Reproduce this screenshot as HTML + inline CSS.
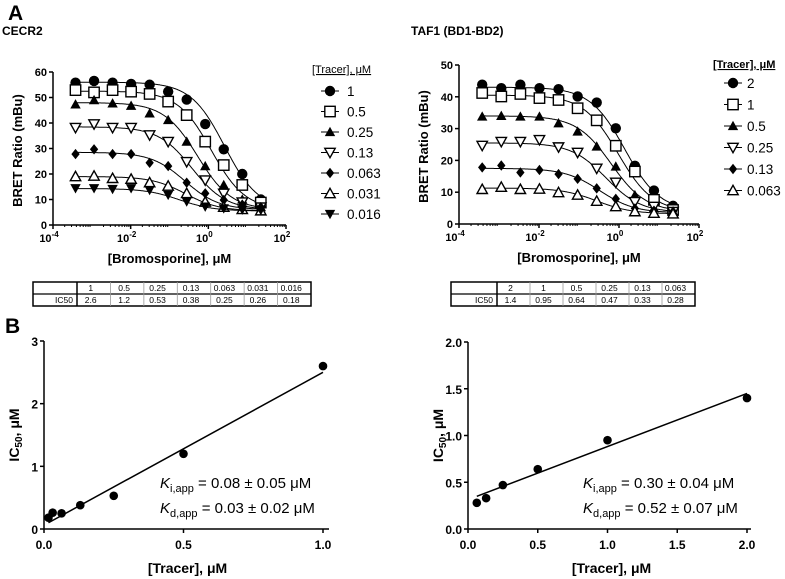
<!DOCTYPE html>
<html><head><meta charset="utf-8"><style>
body{margin:0;background:#fff}
svg{display:block;font-family:"Liberation Sans",Arial,sans-serif}
.tk{font-size:11px;font-weight:bold}
.tt{font-size:13px;font-weight:bold}
.lg{font-size:13.5px}
.tb{font-size:8.5px}
</style></head><body>
<svg id="fig" width="785" height="579" viewBox="0 0 785 579" xmlns="http://www.w3.org/2000/svg">
<text x="8" y="20" font-size="21" font-weight="bold">A</text>
<text x="2" y="35" font-size="12" font-weight="bold">CECR2</text>
<text x="411" y="35" font-size="12" font-weight="bold">TAF1 (BD1-BD2)</text>
<text x="5" y="333" font-size="21" font-weight="bold">B</text>
<g id="root"></g>
</svg>
<script>
// ---- Data ----
const concLog0 = -3.42; // first concentration (log10 µM), 3-fold dilution
const cecrTracer = ["1","0.5","0.25","0.13","0.063","0.031","0.016"];
const cecrIC50 = [2.6,1.2,0.53,0.38,0.25,0.26,0.18];
const cecrTop = [56,52.5,48,38.5,28.5,19,14.3];
const cecrBottom = [6,6,6,6,6,5.5,5.5];
const cecr1 = [55.8,56.5,55.8,55.3,55,52.3,49.2,39.6,29.7,20,10];
const cecr2 = [52.9,52,52.9,52.3,51.4,48.4,43.1,32.7,23.5,15.7,8.8];
const cecr3 = [47.3,49,47.7,46.8,43.8,41.2,32.7,23.1,15.7,10,7];
const cecr4 = [38.2,39.6,38.2,38.2,35.3,32.7,24.8,17.6,12.4,9,7];
const cecr5 = [27.8,29.7,27.8,27.8,24.4,23.1,16.6,12.4,9.8,8,7];
const cecr6 = [19,19.2,18.3,18,16.6,15.3,12.4,9,7,6.1,5.6];
const cecr7 = [14.4,14.4,14.1,14.4,13.7,11.8,9.2,7.2,6.5,6,5.8];
const tafTracer = ["2","1","0.5","0.25","0.13","0.063"];
const tafIC50 = [1.4,0.95,0.64,0.47,0.33,0.28];
const tafTop = [43,40.5,34,25.5,17.5,11.3];
const tafBottom = [4,3.8,3.8,3.6,3.5,3.2];
const taf1 = [43.8,42.7,43.8,42.7,42.4,40.1,38.2,30.1,18.3,10.5,5.7];
const taf2 = [41.2,40.1,40.9,39.6,39,36.4,32.6,24.6,16.5,7.6,4.4];
const taf3 = [33.8,34,33.8,33.8,31.7,29.1,24.4,18.1,9.1,5,4];
const taf4 = [24.7,25.9,25.9,26.5,24.2,22.5,17.5,13.1,7,5.5,3.9];
const taf5 = [17.8,18.4,16.2,17,15.7,14.2,11.2,7.9,4.9,4.2,3.9];
const taf6 = [10.9,11.6,10.9,11,9.9,9.1,7.2,5.5,3.9,3.4,3.2];
const cecrTracerNum = [1,0.5,0.25,0.13,0.063,0.031,0.016];
const tafTracerNum = [2,1,0.5,0.25,0.13,0.063];
const cecrFit = [0.016,0.1,1.0,2.5];  // x0,y0,x1,y1
const tafFit = [0.063,0.35,2.0,1.45];
const xDecTicks = [-4,-2,0,2];
const cecrYTicks = [0,10,20,30,40,50,60];
const tafYTicks = [0,10,20,30,40,50];

const NS="http://www.w3.org/2000/svg";
const root=document.getElementById('root');
function mk(tag,attrs,parent){const e=document.createElementNS(NS,tag);for(const k in attrs)e.setAttribute(k,attrs[k]);(parent||root).appendChild(e);return e;}

const shapes=["circle","square","tri","dtri","diamond","otri","fdtri"];
const tshapes=["circle","square","tri","dtri","diamond","otri"];
function marker(g,shape,x,y){
  const s=5.2;let e;
  if(shape==="circle")e=mk('circle',{cx:x,cy:y,r:s,fill:'#000'},g);
  else if(shape==="square")e=mk('rect',{x:x-s,y:y-s,width:2*s,height:2*s,fill:'#fff',stroke:'#000','stroke-width':1.4},g);
  else if(shape==="tri")e=mk('polygon',{points:`${x},${y-s} ${x+s},${y+s*0.8} ${x-s},${y+s*0.8}`,fill:'#000'},g);
  else if(shape==="otri")e=mk('polygon',{points:`${x},${y-s} ${x+s},${y+s*0.8} ${x-s},${y+s*0.8}`,fill:'#fff',stroke:'#000','stroke-width':1.4},g);
  else if(shape==="dtri")e=mk('polygon',{points:`${x},${y+s} ${x+s},${y-s*0.8} ${x-s},${y-s*0.8}`,fill:'#fff',stroke:'#000','stroke-width':1.4},g);
  else if(shape==="fdtri")e=mk('polygon',{points:`${x},${y+s} ${x+s},${y-s*0.8} ${x-s},${y-s*0.8}`,fill:'#000'},g);
  else e=mk('polygon',{points:`${x},${y-s} ${x+s*0.8},${y} ${x},${y+s} ${x-s*0.8},${y}`,fill:'#000'},g);
  return e;
}

function doseChart(name,ax,series,tops,bots,ics,shp,yTicks,legendLabels,leg){
  const g=mk('g',{});
  
  
  const X=l=>ax.x0+(l+4)/6*(ax.x1-ax.x0);
  const Y=v=>ax.y0-v/ax.ymax*(ax.y0-ax.y1);
  const ya=mk('line',{x1:ax.x0,y1:ax.y0,x2:ax.x0,y2:ax.y1,stroke:'#000','stroke-width':1.5},g);
  
  
  const xa=mk('line',{x1:ax.x0,y1:ax.y0,x2:ax.x1,y2:ax.y0,stroke:'#000','stroke-width':1.5},g);
  
  
  yTicks.forEach(t=>{mk('line',{x1:ax.x0-4,x2:ax.x0,y1:Y(t),y2:Y(t),stroke:'#000','stroke-width':1.5},g);
    const tx=mk('text',{x:ax.x0-6,y:Y(t)+4,'text-anchor':'end',class:'tk'},g);tx.textContent=t;
    
    });
  xDecTicks.forEach(t=>{mk('line',{x1:X(t),x2:X(t),y1:ax.y0,y2:ax.y0+4,stroke:'#000','stroke-width':1.5},g);
    const tx=mk('text',{x:X(t)-4,y:ax.y0+17,'text-anchor':'middle',class:'tk'},g);
    tx.innerHTML='10<tspan dy="-5" font-size="8">'+t+'</tspan>';
    
    });
  for(let d=-4;d<2;d++)for(let m=2;m<10;m++){const l=d+Math.log10(m);mk('line',{x1:X(l),x2:X(l),y1:ax.y0,y2:ax.y0+2,stroke:'#000','stroke-width':1},g);}
  const xt=mk('text',{x:(ax.x0+ax.x1)/2,y:ax.y0+38,'text-anchor':'middle',class:'tt'},g);xt.textContent='[Bromosporine], μM';
  
  
  const yt=mk('text',{x:0,y:0,'text-anchor':'middle',class:'tt',transform:`translate(${ax.x0-31},${(ax.y0+ax.y1)/2+2}) rotate(-90)`},g);yt.textContent='BRET Ratio (mBu)';
  
  
  series.forEach((vals,i)=>{
    let d='';
    for(let l=concLog0;l<=concLog0+10*Math.log10(3)+0.01;l+=0.02){
      const c=Math.pow(10,l);const v=bots[i]+(tops[i]-bots[i])/(1+c/ics[i]);
      d+=(d?'L':'M')+X(l).toFixed(1)+' '+Y(v).toFixed(1);}
    const p=mk('path',{d,fill:'none',stroke:'#000','stroke-width':1},g);
    
    
    vals.forEach((v,j)=>{const m=marker(g,shp[i],X(concLog0+j*Math.log10(3)),Y(v));
      
      });
  });
  const lt=mk('text',{x:leg.x,y:leg.y,style:'font-size:11px;text-decoration:underline','font-weight':leg.bold?'bold':'normal'},g);lt.textContent='[Tracer], μM';
  
  
  legendLabels.forEach((lab,i)=>{const yy=leg.y0+i*leg.dy;
    mk('line',{x1:leg.mx-9,x2:leg.mx+9,y1:yy,y2:yy,stroke:'#000','stroke-width':1},g);
    const m=marker(g,shp[i],leg.mx,yy);
    
    
    const t=mk('text',{x:leg.mx+leg.tx,y:yy+5,class:'lg'},g);t.textContent=lab;
    
    });
}
doseChart('cecr2-dose-response',{x0:53,x1:286,y0:225,y1:72,ymax:60},[cecr1,cecr2,cecr3,cecr4,cecr5,cecr6,cecr7],cecrTop,cecrBottom,cecrIC50,shapes,cecrYTicks,cecrTracer,{x:312,y:73,y0:91,dy:20.5,mx:330,tx:17});
doseChart('taf1-dose-response',{x0:459,x1:699,y0:224,y1:65,ymax:50},[taf1,taf2,taf3,taf4,taf5,taf6],tafTop,tafBottom,tafIC50,tshapes,tafYTicks,tafTracer,{x:713,y:68,y0:83,dy:21.5,mx:733,tx:14,bold:true});

function table(name,x0,x1,y0,firstW,labels,vals){
  const g=mk('g',{});
  
  
  const h=12,n=labels.length,cw=(x1-x0-firstW)/n;
  mk('rect',{x:x0,y:y0,width:x1-x0,height:2*h,fill:'#fff',stroke:'#000','stroke-width':1.5},g);
  mk('line',{x1:x0,x2:x1,y1:y0+h,y2:y0+h,stroke:'#000','stroke-width':1.2},g);
  mk('line',{x1:x0+firstW,x2:x0+firstW,y1:y0,y2:y0+2*h,stroke:'#000','stroke-width':1.5},g);
  const ic=mk('text',{x:x0+firstW-4,y:y0+h+9,'text-anchor':'end',class:'tb'},g);ic.textContent='IC50';
  for(let i=0;i<n;i++){const cx=x0+firstW+i*cw;
    if(i>0)mk('line',{x1:cx,x2:cx,y1:y0,y2:y0+2*h,stroke:'#999','stroke-width':0.8},g);
    const a=mk('text',{x:cx+cw/2-3,y:y0+9,'text-anchor':'middle',class:'tb'},g);a.textContent=labels[i];
    
    
    const b=mk('text',{x:cx+cw/2-3,y:y0+h+9,'text-anchor':'middle',class:'tb'},g);b.textContent=vals[i];
    
    }
}
table('cecr2-ic50-table',33,311,282,44,cecrTracer,cecrIC50);
table('taf1-ic50-table',451,695,282,46,tafTracer,tafIC50);

function linChart(name,ax,xs,ys,fit,xTicks,yTicks,fmtX,fmtY,ann){
  const g=mk('g',{});
  
  
  const X=v=>ax.x0+v/ax.xmax*(ax.x1-ax.x0);
  const Y=v=>ax.y0-v/ax.ymax*(ax.y0-ax.y1);
  const ya=mk('line',{x1:ax.x0,y1:ax.y0,x2:ax.x0,y2:ax.y1,stroke:'#000','stroke-width':1.5},g);
  
  
  const xa=mk('line',{x1:ax.x0,y1:ax.y0,x2:ax.xend,y2:ax.y0,stroke:'#000','stroke-width':1.5},g);
  
  
  yTicks.forEach(t=>{mk('line',{x1:ax.x0-4,x2:ax.x0,y1:Y(t),y2:Y(t),stroke:'#000','stroke-width':1.5},g);
    const tx=mk('text',{x:ax.x0-6,y:Y(t)+5,'text-anchor':'end',class:'tk',style:'font-size:12px'},g);tx.textContent=fmtY(t);
    
    });
  xTicks.forEach(t=>{mk('line',{x1:X(t),x2:X(t),y1:ax.y0,y2:ax.y0+4,stroke:'#000','stroke-width':1.5},g);
    const tx=mk('text',{x:X(t),y:ax.y0+20,'text-anchor':'middle',class:'tk',style:'font-size:12px'},g);tx.textContent=fmtX(t);
    
    });
  const xt=mk('text',{x:(ax.x0+ax.x1)/2+4,y:ax.y0+44,'text-anchor':'middle',class:'tt',style:'font-size:14px'},g);xt.textContent='[Tracer], μM';
  
  
  const yt=mk('text',{x:0,y:0,'text-anchor':'middle',class:'tt',style:'font-size:14px',transform:`translate(${ax.x0-25},${(ax.y0+ax.y1)/2}) rotate(-90)`},g);
  yt.innerHTML='IC<tspan font-size="10" dy="3">50</tspan><tspan dy="-3">, μM</tspan>';
  
  
  const fl=mk('line',{x1:X(fit[0]),y1:Y(fit[1]),x2:X(fit[2]),y2:Y(fit[3]),stroke:'#000','stroke-width':1.5},g);
  
  
  xs.forEach((x,i)=>{const c=mk('circle',{cx:X(x),cy:Y(ys[i]),r:4.3,fill:'#000'},g);
    
    });
  const a1=mk('text',{x:ann.x,y:ann.y,style:'font-size:15px'},g);
  a1.innerHTML='<tspan font-style="italic">K</tspan><tspan font-size="11" dy="4">i,app</tspan><tspan dy="-4"> = '+ann.ki+' μM</tspan>';
  
  
  const a2=mk('text',{x:ann.x,y:ann.y+25,style:'font-size:15px'},g);
  a2.innerHTML='<tspan font-style="italic">K</tspan><tspan font-size="11" dy="4">d,app</tspan><tspan dy="-4"> = '+ann.kd+' μM</tspan>';
  
  
}
linChart('cecr2-ic50-vs-tracer',{x0:44,x1:323,xend:329,y0:529,y1:341,xmax:1,ymax:3},cecrTracerNum,cecrIC50,cecrFit,[0,0.5,1],[0,1,2,3],t=>t.toFixed(1),t=>String(t),{x:160,y:488,ki:'0.08 ± 0.05',kd:'0.03 ± 0.02'});
linChart('taf1-ic50-vs-tracer',{x0:468,x1:747,xend:751,y0:529,y1:342,xmax:2,ymax:2},tafTracerNum,tafIC50,tafFit,[0,0.5,1,1.5,2],[0,0.5,1,1.5,2],t=>t.toFixed(1),t=>t.toFixed(1),{x:583,y:488,ki:'0.30 ± 0.04',kd:'0.52 ± 0.07'});
</script>
</body></html>
